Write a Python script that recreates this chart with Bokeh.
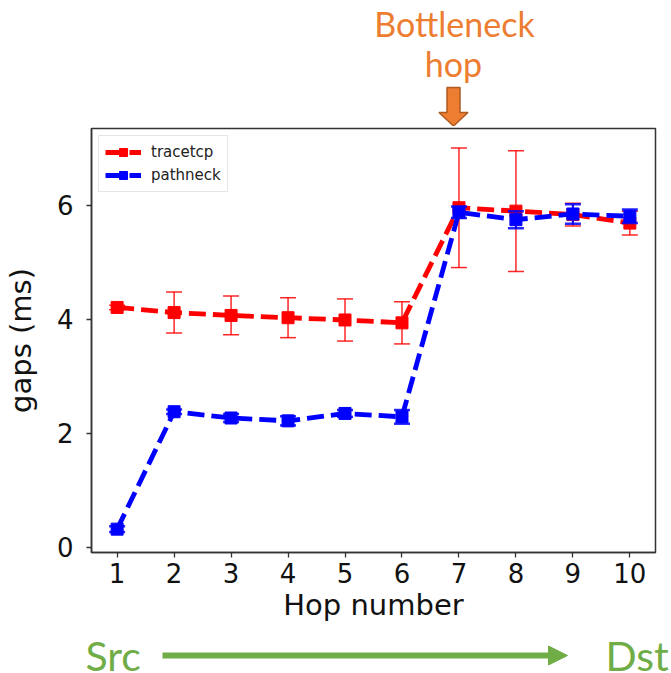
from bokeh.plotting import figure
from bokeh.layouts import column
from bokeh.models import Arrow, NormalHead, Legend, LegendItem, Range1d
from bokeh.core.properties import value
from bokeh.embed import file_html
from bokeh.resources import INLINE

# ---- data ----
hops = [1, 2, 3, 4, 5, 6, 7, 8, 9, 10]
tracetcp_mean = [4.21, 4.12, 4.07, 4.03, 3.99, 3.94, 5.96, 5.90, 5.84, 5.69]
tracetcp_err = [0.04, 0.36, 0.34, 0.35, 0.37, 0.37, 1.05, 1.06, 0.20, 0.21]
pathneck_mean = [0.32, 2.38, 2.27, 2.22, 2.35, 2.29, 5.88, 5.75, 5.85, 5.81]
pathneck_err = [0.05, 0.04, 0.07, 0.08, 0.06, 0.12, 0.10, 0.15, 0.17, 0.12]
x_ticks = [1, 2, 3, 4, 5, 6, 7, 8, 9, 10]
y_ticks = [0, 2, 4, 6]

# ---- geometry (page pixels; the Bokeh page template has no body margin) ----
W = 671
TOP_H = 126          # banner with "Bottleneck hop"
BL, BR, BT, BB = 86, 16, 2, 78
MAIN_H = BT + 424 + BB   # chart
BOT_H = 673 - TOP_H - MAIN_H  # Src -> Dst
X0, X1 = 0.55, 10.45
Y0, Y1 = -0.09, 7.35

ORANGE = "#ED7D31"
GREEN = "#70AD47"
RED = "#ff0000"
BLUE = "#0000ff"


def blank(h, y_top):
    f = figure(width=W, height=h, x_range=Range1d(0, W), y_range=Range1d(y_top + h, y_top),
               output_backend="svg", toolbar_location=None,
               x_axis_location=None, y_axis_location=None,
               min_border=0, min_border_left=0, min_border_right=0,
               min_border_top=0, min_border_bottom=0, frame_align=False)
    f.outline_line_color = None
    f.grid.visible = False
    return f


# text glyphs render about 0.34 em lower than the requested baseline
def base(y, size):
    return y - 0.34 * size


# ---- top banner ----
top = blank(TOP_H, 0)
top.text(x=[454], y=[base(35, 34)], text=["Bottleneck"], text_align="center", text_baseline="alphabetic",
         text_font=value("Lato"), text_font_size="34px", text_color=ORANGE)
top.text(x=[453], y=[base(75, 34)], text=["hop"], text_align="center", text_baseline="alphabetic",
         text_font=value("Lato"), text_font_size="34px", text_color=ORANGE)
ac, sw, hw = 453, 6.5, 14.5
top.patch(x=[ac - sw, ac + sw, ac + sw, ac + hw, ac, ac - hw, ac - sw],
          y=[87, 87, 112, 112, 125.5, 112, 112],
          fill_color=ORANGE, line_color="#AE5A21", line_width=1.5)

# ---- main chart ----
p = figure(width=W, height=MAIN_H, x_range=(X0, X1), y_range=(Y0, Y1),
           output_backend="svg", toolbar_location=None,
           min_border_left=BL, min_border_right=BR,
           min_border_top=BT, min_border_bottom=BB, frame_align=False)


def series(mean, err, color, ew, cw):
    lo = [m - e for m, e in zip(mean, err)]
    hi = [m + e for m, e in zip(mean, err)]
    ln = p.line(hops, mean, line_color=color, line_width=4.8, line_dash="17 7")
    p.segment(x0=hops, y0=lo, x1=hops, y1=hi, line_color=color, line_width=ew, line_alpha=0.85)
    p.scatter(hops, lo, marker="dash", size=16, line_color=color, line_width=cw, line_alpha=0.85)
    p.scatter(hops, hi, marker="dash", size=16, line_color=color, line_width=cw, line_alpha=0.85)
    sq = p.scatter(hops, mean, marker="square", size=12, fill_color=color, line_color=color)
    return ln, sq


r_ln, r_sq = series(tracetcp_mean, tracetcp_err, RED, 1.5, 1.5)
b_ln, b_sq = series(pathneck_mean, pathneck_err, BLUE, 2.2, 2.5)

legend = Legend(items=[LegendItem(label="tracetcp", renderers=[r_ln, r_sq]),
                       LegendItem(label="pathneck", renderers=[b_ln, b_sq])],
                location="top_left", margin=7, padding=6, spacing=3,
                glyph_width=36, glyph_height=20, label_standoff=10,
                label_text_font="DejaVu Sans", label_text_font_size="15px",
                label_text_color="#222222",
                border_line_color="#cccccc", border_line_width=1,
                background_fill_alpha=0.8)
p.add_layout(legend)

p.xaxis.ticker = x_ticks
p.yaxis.ticker = y_ticks
p.grid.visible = False
for ax in (p.xaxis[0], p.yaxis[0]):
    ax.minor_tick_line_color = None
    ax.major_tick_in = 0
    ax.major_tick_out = 5
    ax.major_tick_line_color = "#333333"
    ax.major_tick_line_width = 1.3
    ax.axis_line_color = "#333333"
    ax.axis_line_width = 1.5
    ax.major_label_text_font = "DejaVu Sans"
    ax.major_label_text_font_size = "26px"
    ax.major_label_text_color = "#111111"
    ax.axis_label_text_font = "DejaVu Sans"
    ax.axis_label_text_font_size = "29px"
    ax.axis_label_text_font_style = "normal"
    ax.axis_label_text_color = "#111111"
p.xaxis.axis_label = "Hop number"
p.yaxis.axis_label = "gaps (ms)"
p.xaxis.major_label_standoff = 5
p.yaxis.major_label_standoff = 13
p.xaxis.axis_label_standoff = 2
p.yaxis.axis_label_standoff = 16
p.outline_line_color = "#333333"
p.outline_line_width = 1.5

# ---- bottom Src -> Dst ----
y_top_bot = TOP_H + MAIN_H
bot = blank(BOT_H, y_top_bot)
ybase = 669
bot.text(x=[85], y=[base(ybase, 41)], text=["Src"], text_align="left", text_baseline="alphabetic",
         text_font=value("Lato"), text_font_size="41px", text_color=GREEN)
bot.text(x=[605], y=[base(ybase, 41)], text=["Dst"], text_align="left", text_baseline="alphabetic",
         text_font=value("Lato"), text_font_size="41px", text_color=GREEN)
bot.add_layout(Arrow(x_start=162, y_start=655, x_end=567, y_end=655,
                     line_color=GREEN, line_width=6,
                     end=NormalHead(size=19, fill_color=GREEN, line_color=GREEN)))

layout = column(top, p, bot, spacing=0)
open("out.html", "w").write(file_html(layout, INLINE))
